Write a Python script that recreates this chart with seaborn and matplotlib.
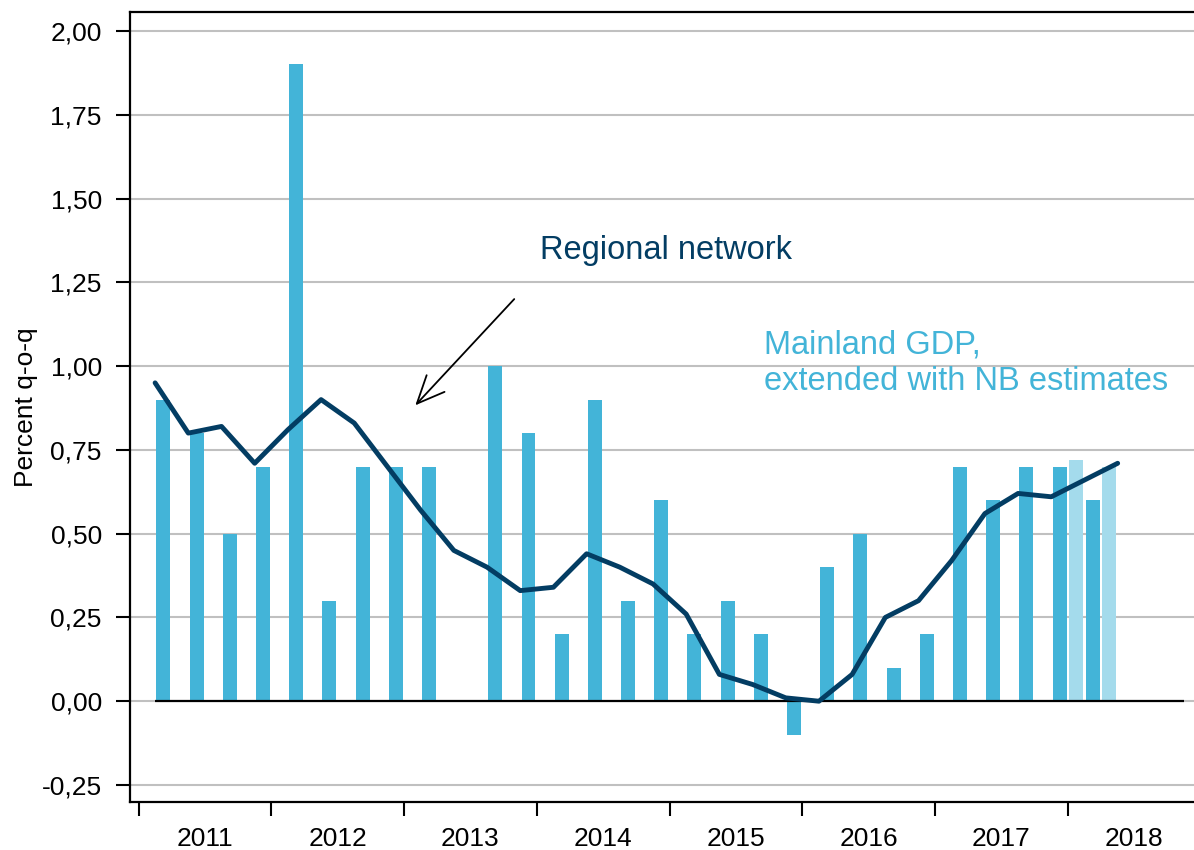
import numpy as np
import pandas as pd
import matplotlib
matplotlib.use("Agg")
import matplotlib.pyplot as plt
from matplotlib.ticker import FuncFormatter
import seaborn as sns

# -----------------------------------------------------------
# Data
# -----------------------------------------------------------
years = ['2011', '2012', '2013', '2014', '2015', '2016', '2017', '2018']

# Mainland GDP, percent q-o-q, 2011Q1 - 2018Q1 (2013Q2 = 0)
gdp_quarters = [f'{y}Q{q}' for y in years for q in range(1, 5)][:29]
gdp = [0.90, 0.80, 0.50, 0.70, 1.90, 0.30, 0.70, 0.70, 0.70, 0.00,
       1.00, 0.80, 0.20, 0.90, 0.30, 0.60, 0.20, 0.30, 0.20, -0.10,
       0.40, 0.50, 0.10, 0.20, 0.70, 0.60, 0.70, 0.70, 0.60]

# NB estimates
nb_quarters = ['2018Q1', '2018Q2']
nb_estimates = [0.72, 0.70]

# Regional network, 2011Q1 - 2018Q2
net_quarters = [f'{y}Q{q}' for y in years for q in range(1, 5)][:30]
network = [0.95, 0.80, 0.82, 0.71, 0.81, 0.90, 0.83, 0.70, 0.57, 0.45,
           0.40, 0.33, 0.34, 0.44, 0.40, 0.35, 0.26, 0.08, 0.05, 0.01,
           0.00, 0.08, 0.25, 0.30, 0.42, 0.56, 0.62, 0.61, 0.66, 0.71]

BAR = '#43b4d8'
BAR_LIGHT = '#a4dbec'
NAVY = '#033d63'


def qpos(label):
    # kwartaal -> positie in kwartalen vanaf begin 2011
    return (int(label[:4]) - 2011) * 4 + int(label[-1]) - 1


df_gdp = pd.DataFrame({'x': [qpos(q) + 0.75 for q in gdp_quarters], 'value': gdp})
df_nb = pd.DataFrame({'x': [qpos(q) + 0.25 for q in nb_quarters], 'value': nb_estimates})
df_net = pd.DataFrame({'x': [qpos(q) + 0.5 for q in net_quarters], 'value': network})

# -----------------------------------------------------------
# Plot
# -----------------------------------------------------------
sns.set_style('white')
plt.rcParams['font.family'] = ['Liberation Sans', 'DejaVu Sans']
plt.rcParams['text.color'] = 'black'
plt.rcParams['axes.labelcolor'] = 'black'

fig = plt.figure(figsize=(11.94, 8.5), dpi=100)
ax = fig.add_axes([0.1085, 0.0565, 0.8915, 0.9294])

sns.barplot(data=df_gdp, x='x', y='value', native_scale=True, width=0.42,
            color=BAR, saturation=1, linewidth=0, errorbar=None, ax=ax)
sns.barplot(data=df_nb, x='x', y='value', native_scale=True, width=0.42,
            color=BAR_LIGHT, saturation=1, linewidth=0, errorbar=None, ax=ax)
ax.hlines(0, df_net['x'].iloc[0], len(years) * 4 - 0.5, color='black', lw=1.6, zorder=3)
sns.lineplot(data=df_net, x='x', y='value', color=NAVY, lw=3.5, zorder=4, ax=ax)

ax.set_xlim(-0.27, 31.8)
ax.set_ylim(-0.3007, 2.0567)

# assen
ax.set_axisbelow(True)
ax.grid(axis='y', color='#c0c0c0', lw=1.5)
ax.grid(axis='x', visible=False)
for side in ['left', 'top', 'bottom']:
    ax.spines[side].set_color('black')
    ax.spines[side].set_linewidth(1.6)
ax.spines['right'].set_visible(False)

ax.set_yticks(np.arange(-0.25, 2.01, 0.25))
ax.yaxis.set_major_formatter(FuncFormatter(lambda v, p: f'{v:.2f}'.replace('.', ',')))
ax.tick_params(axis='y', length=10, width=1.5, pad=10, labelsize=19, colors='black', left=True)

ax.set_xticks(range(0, len(years) * 4, 4))
ax.set_xticklabels([])
ax.set_xticks([i * 4 + 2 for i in range(len(years))], minor=True)
ax.set_xticklabels(years, minor=True)
ax.tick_params(axis='x', which='major', length=10, width=1.5, bottom=True, colors='black')
ax.tick_params(axis='x', which='minor', length=0, pad=18, labelsize=19, colors='black')

ax.set_xlabel('')
ax.set_ylabel('Percent q-o-q', fontsize=19, color='black')
ax.yaxis.set_label_coords(-0.086, 0.5)

# annotaties
ax.text(12.1, 1.319, 'Regional network', color=NAVY, fontsize=23.5, va='baseline')
ax.text(18.83, 1.039, 'Mainland GDP,', color=BAR, fontsize=23.5, va='baseline')
ax.text(18.83, 0.928, 'extended with NB estimates', color=BAR, fontsize=23.5, va='baseline')
ax.annotate('', xy=(8.34, 0.883), xytext=(11.32, 1.20),
            arrowprops=dict(arrowstyle='->,head_length=0.99,head_width=0.44',
                            color='black', lw=1.3, mutation_scale=20,
                            shrinkA=0, shrinkB=0))

plt.savefig('out.png', dpi=100)
